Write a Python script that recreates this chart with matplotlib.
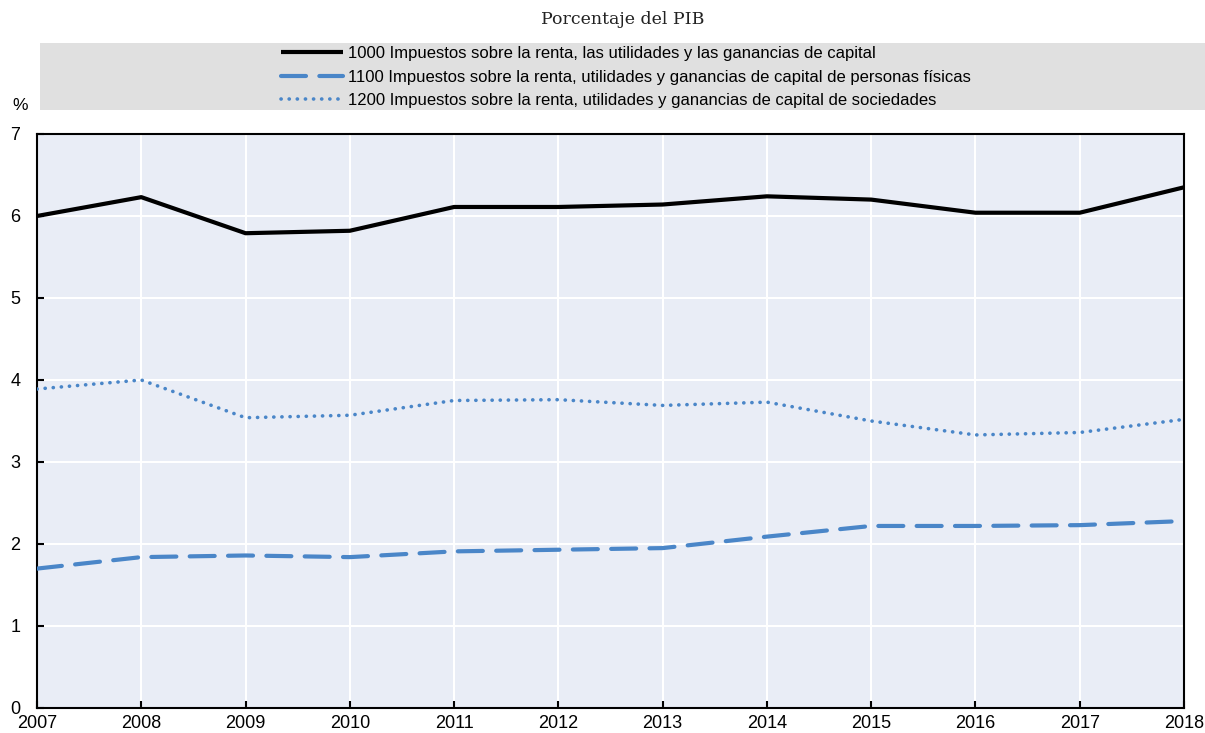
import matplotlib
matplotlib.use("Agg")
import matplotlib.pyplot as plt
from matplotlib.patches import Rectangle
from matplotlib import font_manager as fm

years = [2007, 2008, 2009, 2010, 2011, 2012, 2013, 2014, 2015, 2016, 2017, 2018]
s1000 = [6.00, 6.23, 5.79, 5.82, 6.11, 6.11, 6.14, 6.24, 6.20, 6.04, 6.04, 6.35]
s1100 = [1.70, 1.84, 1.86, 1.84, 1.91, 1.93, 1.95, 2.09, 2.22, 2.22, 2.23, 2.28]
s1200 = [3.89, 4.00, 3.54, 3.57, 3.75, 3.76, 3.69, 3.73, 3.50, 3.33, 3.36, 3.52]
labels = [
    "1000 Impuestos sobre la renta, las utilidades y las ganancias de capital",
    "1100 Impuestos sobre la renta, utilidades y ganancias de capital de personas físicas",
    "1200 Impuestos sobre la renta, utilidades y ganancias de capital de sociedades",
]
subtitle = "Porcentaje del PIB"
yticks = [0, 1, 2, 3, 4, 5, 6, 7]

names = {f.name for f in fm.fontManager.ttflist}
narrow = "Liberation Sans Narrow" if "Liberation Sans Narrow" in names else "Liberation Sans"
plt.rcParams["font.family"] = [narrow, "DejaVu Sans"]

W, H = 1205, 733
fig = plt.figure(figsize=(W / 100, H / 100), dpi=100)
ax = fig.add_axes([37 / W, (H - 708) / H, (1184 - 37) / W, (708 - 134) / H])

blue = "#4A86C8"
ax.set_facecolor("#E9EDF6")
ax.plot(years, s1000, color="black", lw=3, solid_capstyle="butt", label=labels[0], zorder=3)
l2, = ax.plot(years, s1100, color=blue, lw=3, label=labels[1], zorder=3, dash_capstyle="round")
l2.set_dashes((6, 3.2))
l3, = ax.plot(years, s1200, color=blue, lw=2.6, label=labels[2], zorder=3, dash_capstyle="round")
l3.set_dashes((0.05, 2.2))

ax.set_xlim(2007, 2018)
ax.set_ylim(0, 7)
ax.set_xticks(years)
ax.set_yticks(yticks)
ax.grid(True, color="white", lw=1.5)
ax.set_axisbelow(True)
for sp in ax.spines.values():
    sp.set_color("black")
    sp.set_linewidth(1.5)
ax.tick_params(direction="in", length=5, width=1.5, labelsize=13)
ax.tick_params(axis="x", pad=5)
ax.tick_params(axis="y", pad=12)

fig.patches.append(Rectangle((40 / W, (H - 110) / H), (W - 40) / W, 67 / H,
                             transform=fig.transFigure, facecolor="#E0E0E0",
                             edgecolor="none", zorder=0))
fig.legend(loc="center", bbox_to_anchor=(626 / W, 1 - 77 / H), ncol=1, frameon=False,
           fontsize=12, handlelength=3.75, handletextpad=0.3, labelspacing=0.5,
           borderpad=0)
fig.text(20 / W, 1 - 105 / H, "%", fontsize=12.5, ha="center", va="center")
fig.text(623 / W, 1 - 20 / H, subtitle, fontsize=12.5, ha="center", va="center",
         family=["DejaVu Serif"], color="#222222")

fig.savefig("out.png", dpi=100)
